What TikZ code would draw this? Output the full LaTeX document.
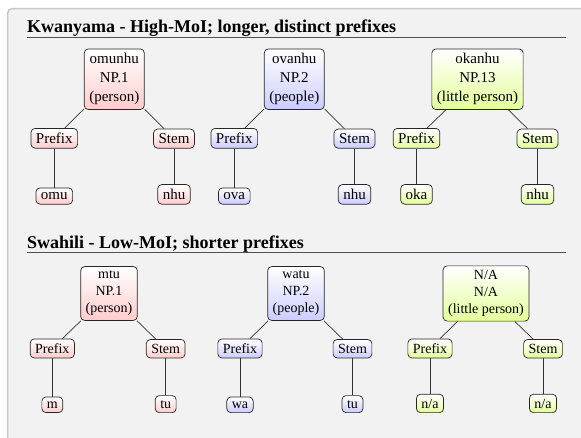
\documentclass[tikz,border=0pt]{standalone}
\usepackage{fontspec}
\setmainfont{Liberation Serif}
\definecolor{bgc}{RGB}{242,242,242}
\definecolor{framec}{RGB}{200,200,200}
\definecolor{rulec}{RGB}{80,80,80}
\definecolor{edgec}{RGB}{50,50,50}
\definecolor{cred}{RGB}{255,204,204}
\definecolor{cblue}{RGB}{204,204,255}
\definecolor{cgreen}{RGB}{228,255,153}
\begin{document}
\begin{tikzpicture}[x=1pt,y=1pt,
  box/.style={draw=black!85, line width=0.7pt, rounded corners=4pt, top color=white, align=center},
  tf/.style={font=\fontsize{15}{19}\selectfont, inner xsep=5pt, inner ysep=4.5pt},
  bf/.style={font=\fontsize{14}{17}\selectfont, inner xsep=5pt, inner ysep=4.5pt},
  cr/.style={bottom color=cred},
  cb/.style={bottom color=cblue},
  cg/.style={bottom color=cgreen},
  lnk/.style={draw=edgec, line width=0.7pt},
  ttl/.style={anchor=base west, inner sep=0pt, font=\fontsize{18}{22}\bfseries\selectfont},
  rl/.style={draw=rulec, line width=1pt}
]
\begin{scope}
\clip (0,0) rectangle (581,-437);
\useasboundingbox (0,0) rectangle (581,-437);
\fill[white] (0,0) rectangle (581,-437);
\draw[draw=framec, fill=bgc, line width=1.5pt, rounded corners=5pt] (7.5,-8.5) rectangle (600,-460);
\end{scope}

% ---------- Top section ----------
\node[ttl] (t1) at (27,-32.3) {Kwanyama - High-MoI; longer, distinct prefixes};
\coordinate (u1a) at (27,-37.3);
\coordinate (u1b) at (566,-37.3);
\draw[rl] (u1a) -- (u1b);

\node[box,tf,cr] (ra) at (114.3,-79.2) {omunhu\\NP.1\\(person)};
\node[box,tf,cb] (rb) at (294.3,-79.2) {ovanhu\\NP.2\\(people)};
\node[box,tf,cg] (rc) at (477.5,-79.2) {okanhu\\NP.13\\(little person)};

\node[box,tf,cr,anchor=base] (pa) at (54.3,-143.5) {Prefix};
\node[box,tf,cr,anchor=base] (sa) at (174,-143.5) {Stem};
\node[box,tf,cb,anchor=base] (pb) at (234.3,-143.5) {Prefix};
\node[box,tf,cb,anchor=base] (sb) at (354.5,-143.5) {Stem};
\node[box,tf,cg,anchor=base] (pc) at (416.5,-143.5) {Prefix};
\node[box,tf,cg,anchor=base] (sc) at (537.5,-143.5) {Stem};

\node[box,tf,cr,anchor=base] (la1) at (54.3,-199.5) {omu};
\node[box,tf,cr,anchor=base] (la2) at (174,-199.5) {nhu};
\node[box,tf,cb,anchor=base] (lb1) at (234.3,-199.5) {ova};
\node[box,tf,cb,anchor=base] (lb2) at (354.5,-199.5) {nhu};
\node[box,tf,cg,anchor=base] (lc1) at (416.5,-199.5) {oka};
\node[box,tf,cg,anchor=base] (lc2) at (537.5,-199.5) {nhu};

\foreach \t in {a,b,c}{
  \draw[lnk] (r\t) -- (p\t);
  \draw[lnk] (r\t) -- (s\t);
  \draw[lnk] (p\t) -- (l\t1);
  \draw[lnk] (s\t) -- (l\t2);
}

% ---------- Bottom section ----------
\node[ttl] (t2) at (27,-248.3) {Swahili - Low-MoI; shorter prefixes};
\coordinate (u2a) at (27,-252.7);
\coordinate (u2b) at (566,-252.7);
\draw[rl] (u2a) -- (u2b);

\node[box,bf,cr] (rd) at (109,-293.5) {mtu\\NP.1\\(person)};
\node[box,bf,cb] (re) at (296,-293.5) {watu\\NP.2\\(people)};
\node[box,bf,cg] (rf) at (486,-293.5) {N/A\\N/A\\(little person)};

\node[box,bf,cr,anchor=base] (pd) at (52.3,-353.3) {Prefix};
\node[box,bf,cr,anchor=base] (sd) at (165.7,-353.3) {Stem};
\node[box,bf,cb,anchor=base] (pe) at (240,-353.3) {Prefix};
\node[box,bf,cb,anchor=base] (se) at (352.5,-353.3) {Stem};
\node[box,bf,cg,anchor=base] (pf) at (430,-353.3) {Prefix};
\node[box,bf,cg,anchor=base] (sf) at (543,-353.3) {Stem};

\node[box,bf,cr,anchor=base] (ld1) at (52.3,-408) {m};
\node[box,bf,cr,anchor=base] (ld2) at (165.7,-408) {tu};
\node[box,bf,cb,anchor=base] (le1) at (240,-408) {wa};
\node[box,bf,cb,anchor=base] (le2) at (352.5,-408) {tu};
\node[box,bf,cg,anchor=base] (lf1) at (430,-408) {n/a};
\node[box,bf,cg,anchor=base] (lf2) at (543,-408) {n/a};

\foreach \t in {d,e,f}{
  \draw[lnk] (r\t) -- (p\t);
  \draw[lnk] (r\t) -- (s\t);
  \draw[lnk] (p\t) -- (l\t1);
  \draw[lnk] (s\t) -- (l\t2);
}
\end{tikzpicture}
\end{document}
